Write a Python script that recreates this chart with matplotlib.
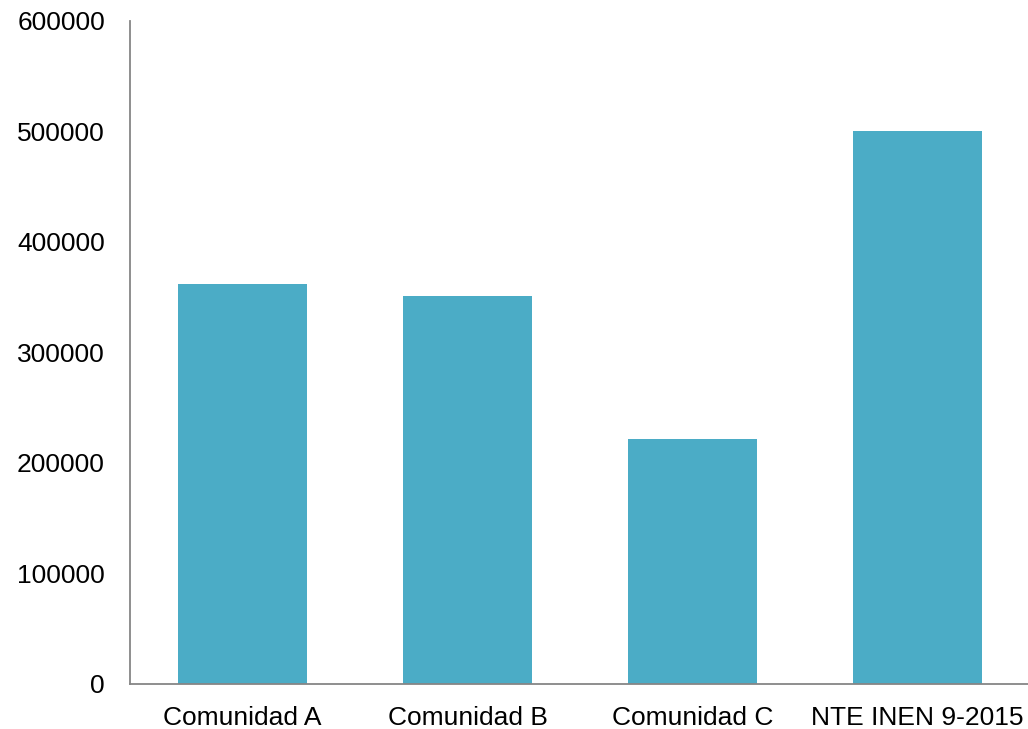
import matplotlib
matplotlib.use("Agg")
import matplotlib.pyplot as plt

# datos del grafico
categorias = ["Comunidad A", "Comunidad B", "Comunidad C", "NTE INEN 9-2015"]
valores = [361500, 351000, 221700, 500000]
yticks = [0, 100000, 200000, 300000, 400000, 500000, 600000]

plt.rcParams['font.family'] = ['Liberation Sans', 'DejaVu Sans']

fig = plt.figure(figsize=(10.28, 7.29), dpi=100)
ax = fig.add_axes([130 / 1028, (729 - 683.5) / 729, 900 / 1028, 662.5 / 729])

ax.bar(range(len(categorias)), valores, width=0.57, color='#4BACC6')

ax.set_xlim(-0.5, 3.5)
ax.set_ylim(0, 600000)
ax.set_yticks(yticks)
ax.set_yticklabels([str(v) for v in yticks])
ax.set_xticks(range(len(categorias)))
ax.set_xticklabels(categorias)

ax.tick_params(axis='y', length=0, pad=18, labelsize=19)
ax.tick_params(axis='x', length=0, pad=16, labelsize=19)

for s in ['top', 'right']:
    ax.spines[s].set_visible(False)
for s in ['left', 'bottom']:
    ax.spines[s].set_color('#868686')
    ax.spines[s].set_linewidth(1.3)

fig.savefig('out.png', dpi=100)
